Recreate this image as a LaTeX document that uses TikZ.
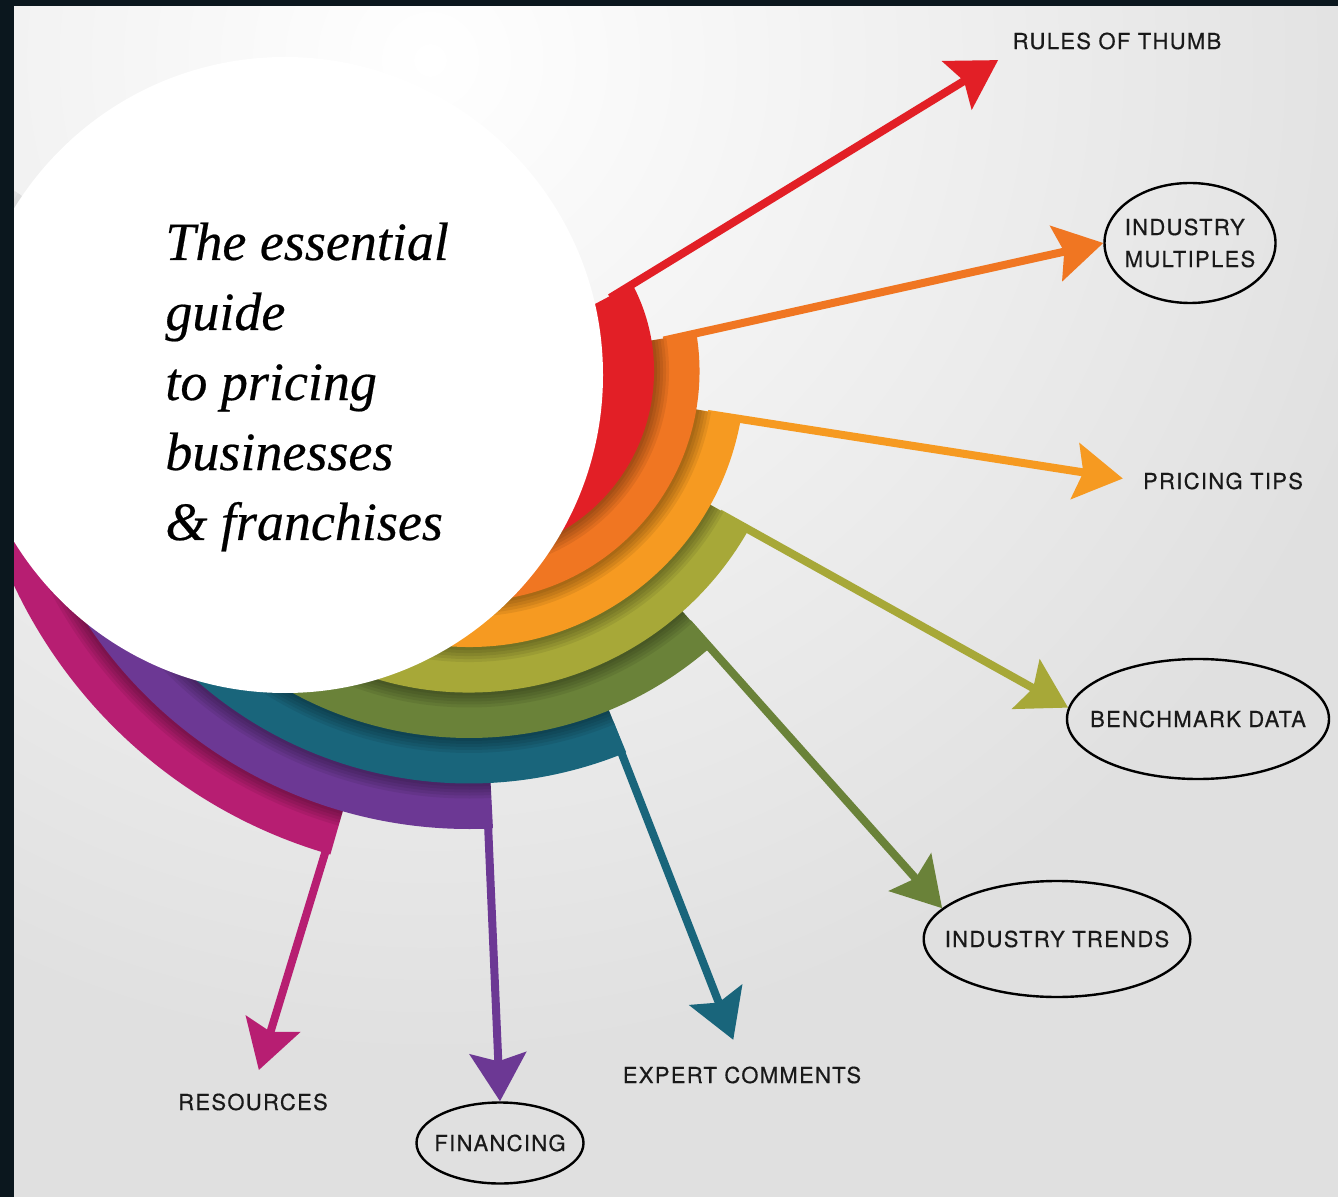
\documentclass[tikz,border=0pt]{standalone}
\usepackage{fontspec}
\newfontfamily\titlefont{Liberation Serif}[FakeBold=0.4]
\newfontfamily\labelfont{TeX Gyre Heros}[LetterSpace=6, FakeBold=0.5]
\usetikzlibrary{arrows.meta,shapes.geometric}
\definecolor{bandred}{HTML}{E21F26}
\definecolor{bandorange}{HTML}{F07622}
\definecolor{bandamber}{HTML}{F69A21}
\definecolor{bandolive}{HTML}{A7A838}
\definecolor{bandgreen}{HTML}{6A8239}
\definecolor{bandteal}{HTML}{19657B}
\definecolor{bandpurple}{HTML}{6C3894}
\definecolor{bandmagenta}{HTML}{B71E72}
\definecolor{paper}{HTML}{E0E0E0}
\definecolor{darkrim}{HTML}{0B171E}

\begin{document}
\begin{tikzpicture}[x=0.5pt, y=-0.5pt,
lbl/.style={font=\labelfont\fontsize{11}{16}\selectfont, text=black!90, inner sep=2pt, align=left},
bubble/.style={lbl, ellipse, draw, line width=1.2pt, inner ysep=0pt},
pointer/.style={line width=4pt, -{Stealth[length=24pt, width=28pt, inset=4pt]}},
title/.style={font=\titlefont\itshape\fontsize{27}{35}\selectfont, align=left, inner sep=0pt}]
\useasboundingbox (0,0) rectangle (1338,1197);
\clip (0,0) rectangle (1338,1197);
\fill[paper] (0,0) rectangle (1338,1197);
\shade[inner color=white, outer color=paper] (430,60) circle[radius=1000];

\begin{scope}[shift={(469,371)}]
\foreach \name/\a/\rin in {red/-28/147, orange/-9.5/185, amber/9.6/230.5, olive/29/276,
    green/48.4/321.5, teal/67.6/367, purple/87/412.5, magenta/106/458}
  \coordinate (\name-cut) at (\a+0.6:\rin+12);
\end{scope}

\node[lbl] (rules) at (1117,41) {RULES OF THUMB};
\node[bubble, inner xsep=-2.5pt, minimum width=85.5pt, minimum height=60pt] (multiples) at (1190,243) {INDUSTRY\\MULTIPLES};
\node[lbl] (pricing) at (1223,481) {PRICING TIPS};
\node[bubble, inner xsep=-9pt, minimum width=131pt, minimum height=60pt] (benchmark) at (1198,719) {BENCHMARK DATA};
\node[bubble, inner xsep=-9pt, minimum width=130.5pt, minimum height=58pt] (trends) at (1057,939) {INDUSTRY TRENDS};
\node[lbl] (expert) at (742,1075) {EXPERT COMMENTS};
\node[bubble, inner xsep=-5pt, minimum width=83.5pt, minimum height=40.5pt] (financing) at (500,1143) {FINANCING};
\node[lbl] (resources) at (253,1102) {RESOURCES};

\draw[pointer, bandred, shorten >=6pt] (red-cut) -- (rules.south west);
\draw[pointer, bandorange] (orange-cut) -- (multiples.west);
\draw[pointer, bandamber, shorten >=8pt] (amber-cut) -- (pricing.west);
\draw[pointer, bandolive] (olive-cut) -- (benchmark.175);
\draw[pointer, bandgreen] (green-cut) -- (trends.165);
\draw[pointer, bandteal, shorten >=12pt] (teal-cut) -- (expert.north);
\draw[pointer, bandpurple] (purple-cut) -- (financing.north);
\draw[pointer, bandmagenta, shorten >=10pt] (magenta-cut) -- (resources.north);

\begin{scope}[shift={(469,371)}]
\foreach \name/\a/\r/\s in {magenta/106/503/180, purple/87/458/106, teal/67.6/412.5/87,
    green/48.4/367/67.6, olive/29/321.5/48.4, amber/9.6/276/29,
    orange/-9.5/230.5/9.6, red/-28/185/-9.5}{
  \foreach \w in {3,6,9,12,15}
    \draw[black, opacity=0.07, line width=\w pt] (\s:\r) arc[start angle=\s, end angle=180, radius=\r];
  \fill[band\name] (0,0) -- (\a:\r) arc[start angle=\a, end angle=180, radius=\r] -- cycle;
}
\end{scope}

\foreach \w in {4,8,12,16}
  \draw[black, opacity=0.02, line width=\w pt] ([shift={(282,378)}]150:318) arc[start angle=150, end angle=215, radius=318];
\fill[white] (285,375) circle[radius=318];
\node[title, anchor=base west] (title) at (165,540) {The essential\\guide\\to pricing\\businesses\\\& franchises};

\fill[darkrim] (0,0) rectangle (14,1197);
\fill[darkrim] (0,0) rectangle (1338,6);
\end{tikzpicture}
\end{document}
